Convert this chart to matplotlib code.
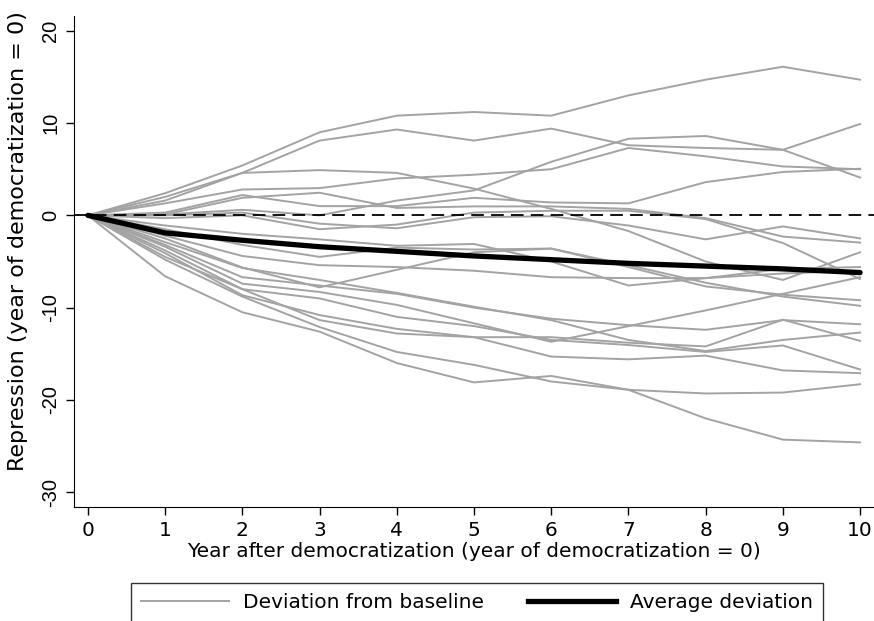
import numpy as np
import matplotlib
matplotlib.use("Agg")
from matplotlib import pyplot as plt
from matplotlib.lines import Line2D

plt.rcParams['font.family'] = ['DejaVu Sans']
plt.rcParams['axes.unicode_minus'] = False

years = list(range(11))

# deviation from baseline, one list per democratization episode
deviations = [
    [0, 2.4, 5.4, 9.0, 10.8, 11.2, 10.8, 13.0, 14.7, 16.1, 14.7],
    [0, 2.0, 4.6, 8.1, 9.3, 8.1, 9.4, 7.6, 7.3, 7.1, 4.1],
    [0, 1.6, 4.6, 4.9, 4.6, 2.9, 0.7, -1.7, -5.0, -7.0, -4.0],
    [0, 1.3, 2.8, 2.95, 4.0, 4.4, 5.0, 7.3, 6.4, 5.3, 5.0],
    [0, 0.1, 0.6, 0.0, 1.6, 2.7, 5.8, 8.3, 8.6, 7.1, 9.9],
    [0, 0.3, 2.2, 1.0, 1.0, 1.9, 1.4, 1.3, 3.6, 4.7, 5.05],
    [0, 0.1, 1.9, 2.45, 0.8, 0.97, 0.97, 0.7, -0.3, -2.3, -2.95],
    [0, 0.0, 0.3, -0.9, -1.4, -0.2, -0.1, -1.1, -2.6, -1.2, -2.5],
    [0, -0.3, 0.0, -1.5, -1.0, 0.3, 0.5, 0.5, -0.4, -3.0, -6.9],
    [0, -1.1, -2.0, -2.6, -3.3, -3.1, -5.0, -7.6, -6.8, -5.8, -5.6],
    [0, -1.5, -3.2, -4.5, -3.5, -3.7, -3.6, -5.6, -7.7, -8.6, -9.2],
    [0, -2.2, -4.4, -5.4, -5.6, -6.0, -6.7, -6.8, -6.8, -6.3, -6.0],
    [0, -2.5, -5.65, -7.8, -5.9, -4.0, -3.6, -5.4, -7.3, -8.8, -9.8],
    [0, -2.9, -5.7, -7.0, -8.4, -9.9, -11.35, -13.5, -14.7, -13.5, -12.7],
    [0, -3.2, -6.7, -7.6, -8.5, -10.0, -11.2, -11.9, -12.4, -11.35, -11.8],
    [0, -3.4, -7.4, -8.3, -9.7, -11.7, -13.7, -12.0, -10.3, -8.5, -6.7],
    [0, -3.8, -8.0, -9.0, -11.0, -12.0, -13.5, -14.05, -14.8, -14.1, -16.7],
    [0, -4.1, -8.65, -10.8, -12.3, -13.2, -13.2, -13.8, -14.2, -11.3, -13.6],
    [0, -4.5, -8.0, -11.35, -12.8, -13.2, -15.3, -15.6, -15.2, -16.8, -17.1],
    [0, -4.8, -8.8, -12.1, -14.8, -16.2, -18.0, -18.9, -22.0, -24.3, -24.6],
    [0, -6.6, -10.5, -12.6, -16.0, -18.1, -17.4, -18.9, -19.3, -19.2, -18.3],
]
average = [0, -1.9, -2.7, -3.4, -3.9, -4.4, -4.8, -5.2, -5.5, -5.8, -6.2]

yticks = [-30, -20, -10, 0, 10, 20]

fig = plt.figure(figsize=(8.74, 6.21), dpi=100)
ax = fig.add_axes([74 / 874, 1 - 507 / 621, 800 / 874, 491 / 621])

gray = '#a3a3a3'
for dev in deviations:
    ax.plot(years, dev, color=gray, lw=1.4, zorder=2)
ax.axhline(0, color='black', lw=1.3, ls=(0, (7, 4)), zorder=3)
ax.plot(years, average, color='black', lw=3.8, solid_capstyle='round', zorder=4)

ax.set_xlim(-0.18, 10.18)
ax.set_ylim(-31.6, 21.6)
ax.set_xticks(years)
ax.set_yticks(yticks)
ax.spines['top'].set_visible(False)
ax.spines['right'].set_visible(False)
ax.tick_params(direction='out', length=6, width=1, labelsize=14.5, pad=4)
for lab in ax.get_yticklabels():
    lab.set_rotation(90)
    lab.set_va('center')
    lab.set_family('Liberation Sans')

ax.set_xlabel("Year after democratization (year of democratization = 0)", fontsize=14.5)
ax.set_ylabel("Repression (year of democratization = 0)", fontsize=16)
ax.xaxis.set_label_coords(0.5, -0.072)
ax.yaxis.set_label_coords(-0.057, 0.542)

handles = [Line2D([], [], color=gray, lw=1.4),
           Line2D([], [], color='black', lw=3.8)]
leg = fig.legend(handles, ["Deviation from baseline", "Average deviation"],
                 loc='upper center', bbox_to_anchor=(477 / 874, 1 - 583 / 621),
                 ncol=2, fontsize=14.5, frameon=True, fancybox=False,
                 edgecolor='black', handlelength=4.4, handletextpad=0.7,
                 columnspacing=2.15, borderpad=0.5, borderaxespad=0)
leg.get_frame().set_linewidth(1.0)

fig.savefig("out.png", dpi=100)
